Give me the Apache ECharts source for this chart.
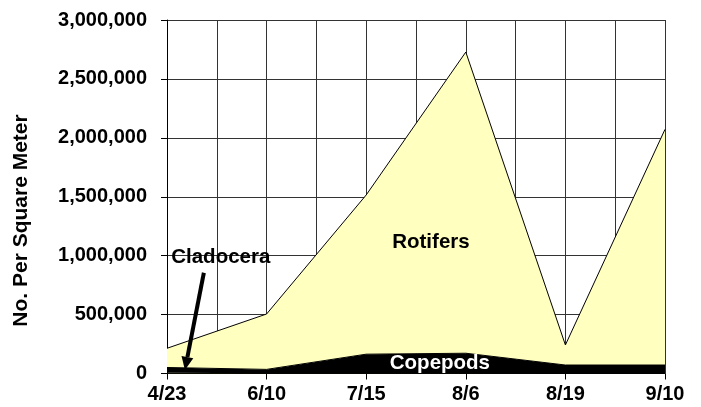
<!DOCTYPE html>
<html>
<head>
<meta charset="utf-8">
<script src="https://cdn.jsdelivr.net/npm/echarts@6/dist/echarts.min.js"></script>
<style>
  html, body { margin: 0; padding: 0; background: #fff; }
  #main { width: 701px; height: 407px; }
</style>
</head>
<body>
<div id="main"></div>
<script>
// sampling dates
var dates = ['4/23', '6/10', '7/15', '8/6', '8/19', '9/10'];
// numbers per square meter
var cladocera = [6000, 3000, 2000, 2000, 1000, 1000];
var copepods = [45000, 32000, 162000, 170000, 71000, 71000];
var rotifers = [163000, 470000, 1351000, 2556000, 170000, 2000000];
// y ticks
var yMax = 3000000;
var yStep = 500000;

var FONT = "'Liberation Sans', Arial, sans-serif";
var chartDom = document.getElementById('main');
var myChart = echarts.init(chartDom);

var option = {
  animation: false,
  grid: { left: 167, right: 36, top: 20, bottom: 33.5 },
  xAxis: [
    {
      type: 'category',
      data: dates,
      boundaryGap: false,
      axisLine: { lineStyle: { color: '#000', width: 1 } },
      axisTick: { length: 6, lineStyle: { color: '#000' } },
      axisLabel: { color: '#000', fontFamily: FONT, fontWeight: 'bold', fontSize: 20, margin: 11 },
      splitLine: { show: false }
    },
    {
      // helper axis: half-category grid lines like the original
      type: 'value',
      min: 0, max: 10, interval: 1,
      show: true,
      axisLine: { show: false },
      axisTick: { show: false },
      axisLabel: { show: false },
      splitLine: { show: true, lineStyle: { color: '#333', width: 1 } }
    }
  ],
  yAxis: {
    type: 'value',
    min: 0, max: yMax, interval: yStep,
    axisLine: { show: true, lineStyle: { color: '#000' } },
    axisTick: { show: true, length: 6, lineStyle: { color: '#000' } },
    axisLabel: {
      color: '#000', fontFamily: FONT, fontWeight: 'bold', fontSize: 20, margin: 20,
      formatter: function (v) { return v.toLocaleString('en-US'); }
    },
    splitLine: { lineStyle: { color: '#333', width: 1 } }
  },
  series: [
    {
      name: 'Cladocera', type: 'line', stack: 'total', symbol: 'none',
      lineStyle: { width: 0 }, areaStyle: { color: '#333300', opacity: 1 },
      data: cladocera
    },
    {
      name: 'Copepods', type: 'line', stack: 'total', symbol: 'none',
      lineStyle: { color: '#000', width: 1 }, areaStyle: { color: '#000', opacity: 1 },
      data: copepods
    },
    {
      name: 'Rotifers', type: 'line', stack: 'total', symbol: 'none',
      lineStyle: { color: '#000', width: 1 }, areaStyle: { color: '#FFFFC0', opacity: 1 },
      data: rotifers
    }
  ]
};
myChart.setOption(option);

// annotations placed in data space (x on the half-category helper axis)
function px(x, y) {
  var a = myChart.convertToPixel({ xAxisIndex: 1 }, x);
  var b = myChart.convertToPixel({ yAxisIndex: 0 }, y);
  return [a, b];
}
var pRot = px(5.3, 1112000);
var pCop = px(5.48, 85000);
var pCla = px(1.08, 990000);
var a0 = px(0.74, 855000);
var a1 = px(0.36, 30000);
var ang = Math.atan2(a1[1] - a0[1], a1[0] - a0[0]);
var headLen = 13, headW = 6;
var base = [a1[0] - headLen * Math.cos(ang), a1[1] - headLen * Math.sin(ang)];
var nx = -Math.sin(ang), ny = Math.cos(ang);

function label(text, p, color) {
  return {
    type: 'text', x: p[0], y: p[1], z: 100,
    style: {
      text: text, fill: color, font: 'bold 20.5px ' + FONT,
      align: 'center', verticalAlign: 'middle'
    }
  };
}

myChart.setOption({
  graphic: [
    label('Rotifers', pRot, '#000'),
    label('Copepods', pCop, '#fff'),
    label('Cladocera', pCla, '#000'),
    {
      // y axis title, sits a bit below the plot's middle in the original
      type: 'text', x: 21.5, y: 220.5, rotation: Math.PI / 2,
      style: {
        text: 'No. Per Square Meter', fill: '#000', font: 'bold 21px ' + FONT,
        align: 'center', verticalAlign: 'middle'
      }
    },
    {
      type: 'line', z: 100,
      shape: { x1: a0[0], y1: a0[1], x2: base[0], y2: base[1] },
      style: { stroke: '#000', lineWidth: 4 }
    },
    {
      type: 'polygon', z: 100,
      shape: { points: [
        [a1[0], a1[1]],
        [base[0] + nx * headW, base[1] + ny * headW],
        [base[0] - nx * headW, base[1] - ny * headW]
      ] },
      style: { fill: '#000' }
    }
  ]
});
</script>
</body>
</html>
